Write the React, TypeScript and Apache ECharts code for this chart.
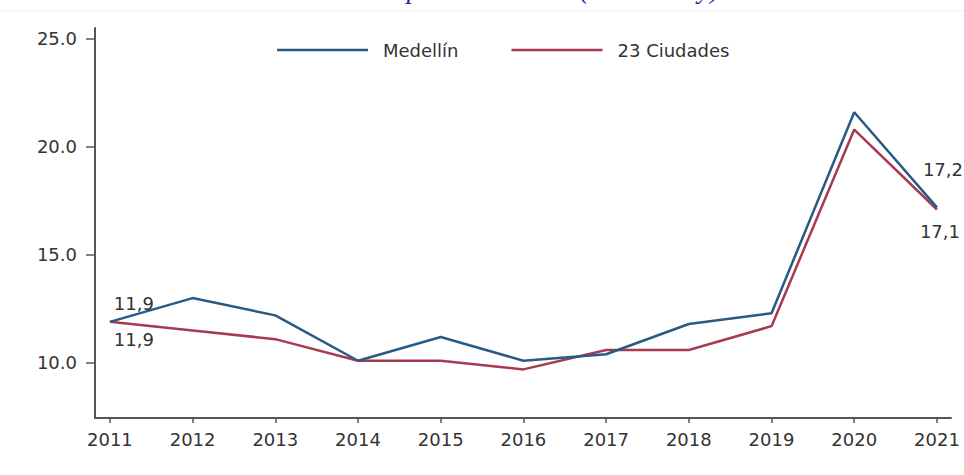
import React, { useEffect, useRef } from "react";
import * as echarts from "echarts";

const years = [2011, 2012, 2013, 2014, 2015, 2016, 2017, 2018, 2019, 2020, 2021];
const medellin = [11.9, 13.0, 12.2, 10.1, 11.2, 10.1, 10.4, 11.8, 12.3, 21.6, 17.2];
const ciudades = [11.9, 11.5, 11.1, 10.1, 10.1, 9.7, 10.6, 10.6, 11.7, 20.8, 17.1];
const yTicks = [10, 15, 20, 25];
const seriesNames = ["Medellín", "23 Ciudades"];
const titleText = "Tasa de desempleo trimestral (Mar - May)";

const FONT = "DejaVu Sans";
const BLUE = "#285a84";
const RED = "#a83a50";

function fmt(v: number) {
  return v.toFixed(1).replace(".", ",");
}

export default function App() {
  const ref = useRef<HTMLDivElement>(null);
  useEffect(() => {
    if (!ref.current) return;
    const chart = echarts.init(ref.current, null, { renderer: "svg" });
    const last = years.length - 1;
    const mkData = (vals: number[], isTop: boolean) =>
      years.map((y, i) => {
        const item: any = { value: [y, vals[i]] };
        if (i === 0) {
          item.label = {
            show: true,
            position: isTop ? "top" : "bottom",
            offset: isTop ? [24, -4] : [24, 4],
          };
        } else if (i === last) {
          item.label = {
            show: true,
            position: isTop ? "top" : "bottom",
            offset: isTop ? [6, -24] : [3, 8],
          };
        }
        return item;
      });
    const labelBase = {
      show: false,
      fontFamily: FONT,
      fontSize: 18,
      color: "#333",
      distance: 5,
      formatter: (p: any) => fmt(p.value[1]),
    };
    chart.setOption({
      animation: false,
      backgroundColor: "#ffffff",
      title: {
        text: titleText,
        left: "center",
        top: -31,
        textStyle: {
          fontFamily: "Liberation Serif",
          fontStyle: "italic",
          fontWeight: "normal",
          fontSize: 28,
          color: "#2a2a9c",
        },
      },
      graphic: [
        {
          type: "line",
          shape: { x1: 0, y1: 11, x2: 964, y2: 11 },
          style: { stroke: "#eceef4", lineWidth: 1 },
        },
      ],
      legend: {
        left: 272,
        top: 36,
        itemWidth: 91,
        itemHeight: 2.5,
        itemGap: 53,
        textStyle: { fontFamily: FONT, fontSize: 18, color: "#333", padding: [0, 0, 0, 10] },
        data: [
          { name: seriesNames[0], icon: "rect" },
          { name: seriesNames[1], icon: "rect" },
        ],
      },
      grid: { left: 95, right: 13, top: 28, bottom: 57, containLabel: false },
      xAxis: {
        type: "value",
        min: 2010.82,
        max: 2021.17,
        splitLine: { show: false },
        axisLine: { show: true, onZero: false, lineStyle: { color: "#555", width: 2 } },
        axisTick: { show: true, length: 5, customValues: years, lineStyle: { color: "#555", width: 1.5 } },
        axisLabel: {
          customValues: years,
          formatter: (v: number) => String(v),
          fontFamily: FONT,
          fontSize: 18,
          color: "#333",
          margin: 12,
        },
      },
      yAxis: {
        type: "value",
        min: 7.45,
        max: 25.5,
        splitLine: { show: false },
        axisLine: { show: true, lineStyle: { color: "#555", width: 2 } },
        axisTick: { show: true, length: 9, customValues: yTicks, lineStyle: { color: "#555", width: 1.5 } },
        axisLabel: {
          customValues: yTicks,
          formatter: (v: number) => v.toFixed(1),
          fontFamily: FONT,
          fontSize: 18,
          color: "#333",
          margin: 18,
        },
      },
      series: [
        {
          name: seriesNames[0],
          type: "line",
          showSymbol: true,
          symbol: "circle",
          symbolSize: 0.01,
          lineStyle: { color: BLUE, width: 2.5 },
          itemStyle: { color: BLUE },
          label: labelBase,
          data: mkData(medellin, true),
          z: 3,
        },
        {
          name: seriesNames[1],
          type: "line",
          showSymbol: true,
          symbol: "circle",
          symbolSize: 0.01,
          lineStyle: { color: RED, width: 2.5 },
          itemStyle: { color: RED },
          label: labelBase,
          data: mkData(ciudades, false),
          z: 2,
        },
      ],
    });
    return () => chart.dispose();
  }, []);
  return (
    <div
      ref={ref}
      style={{ position: "fixed", left: 0, top: 0, width: 964, height: 475 }}
    />
  );
}
